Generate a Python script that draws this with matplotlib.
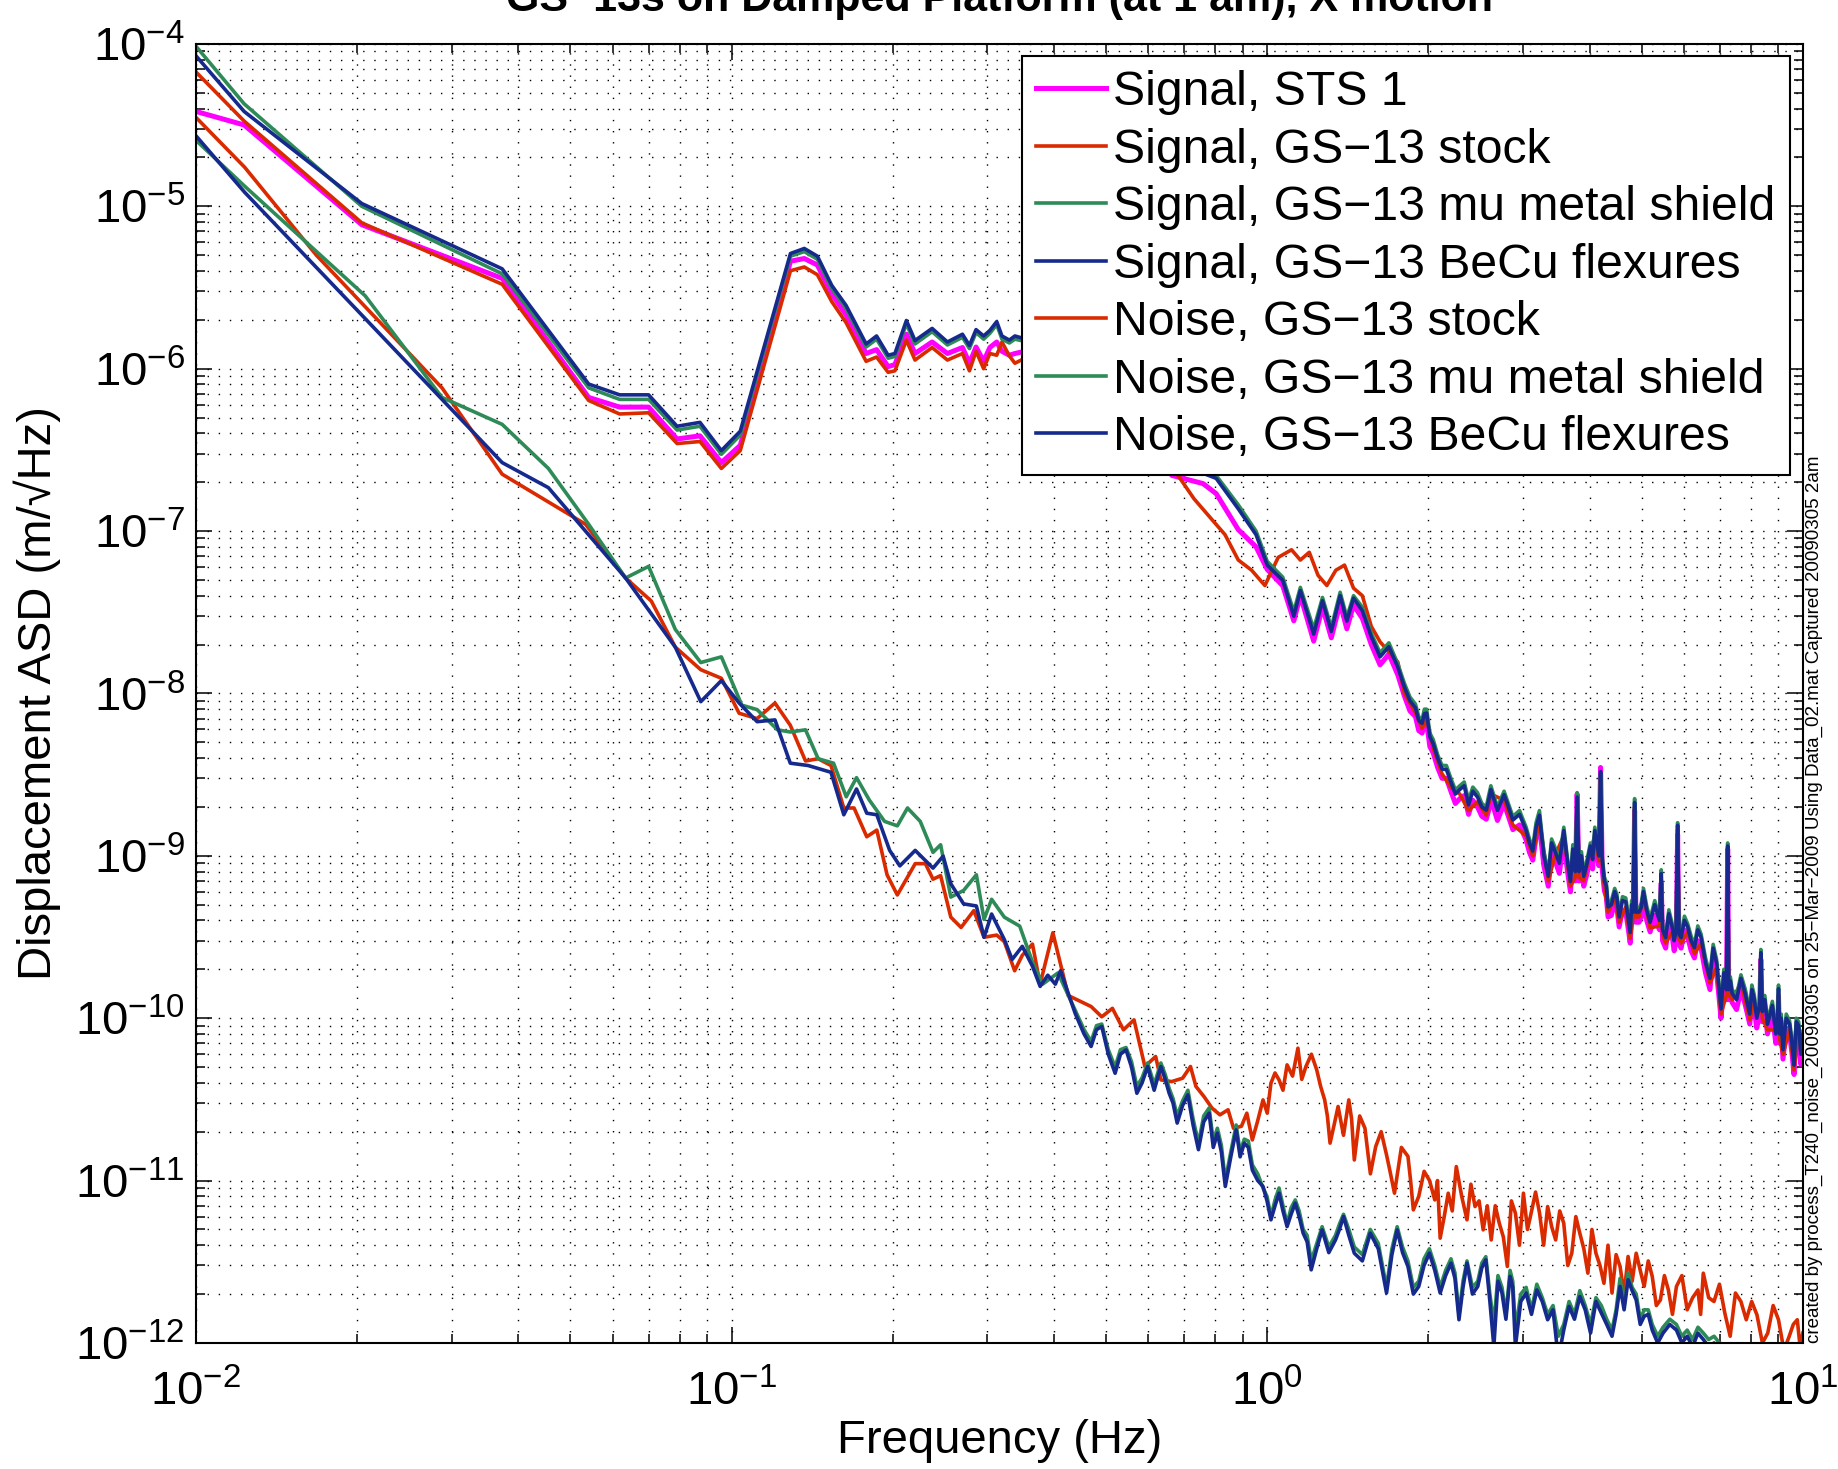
import numpy as np
import matplotlib
matplotlib.use('Agg')
import matplotlib.pyplot as plt
from matplotlib.ticker import LogLocator, NullFormatter

plt.rcParams['font.family'] = ['Liberation Sans', 'DejaVu Sans']
plt.rcParams['mathtext.fontset'] = 'custom'
plt.rcParams['mathtext.rm'] = 'Liberation Sans'
plt.rcParams['mathtext.it'] = 'Liberation Sans:italic'
plt.rcParams['mathtext.bf'] = 'Liberation Sans:bold'

# ---- signal spectra ----
sig_lo_freq = [0.0100, 0.0123, 0.0204, 0.0373, 0.0541, 0.0618, 0.0700, 0.0791, 0.0873, 0.0957,
               0.1038, 0.1288, 0.1367, 0.1446, 0.1538, 0.1636, 0.1783, 0.1865, 0.1960, 0.2018,
               0.2120, 0.2200, 0.2368, 0.2529, 0.2698, 0.2780, 0.2860, 0.2955, 0.3035, 0.3126,
               0.3197, 0.3300, 0.3380, 0.36, 0.40, 0.45, 0.50, 0.55, 0.60]
sts_lo = [3.84e-5, 3.17e-5, 7.7e-6, 3.6e-6, 6.65e-7, 5.8e-7, 5.8e-7, 3.69e-7, 3.86e-7, 2.64e-7,
          3.37e-7, 4.59e-6, 4.77e-6, 4.35e-6, 2.89e-6, 2.14e-6, 1.24e-6, 1.31e-6, 1.03e-6, 1.06e-6,
          1.63e-6, 1.24e-6, 1.46e-6, 1.24e-6, 1.35e-6, 1.08e-6, 1.36e-6, 1.11e-6, 1.35e-6, 1.46e-6,
          1.28e-6, 1.21e-6, 1.24e-6, 1.3e-6, 1.15e-6, 1.05e-6, 8e-7, 5.3e-7, 3.3e-7]
stock_lo = [6.72e-5, 3.35e-5, 7.91e-6, 3.31e-6, 6.37e-7, 5.26e-7, 5.35e-7, 3.46e-7, 3.56e-7, 2.43e-7,
            3.13e-7, 4.01e-6, 4.23e-6, 3.79e-6, 2.59e-6, 1.92e-6, 1.11e-6, 1.18e-6, 9.5e-7, 9.7e-7,
            1.50e-6, 1.13e-6, 1.35e-6, 1.13e-6, 1.24e-6, 9.7e-7, 1.28e-6, 1.0e-6, 1.24e-6, 1.21e-6,
            1.46e-6, 1.20e-6, 1.08e-6, 1.2e-6, 1.05e-6, 9.5e-7, 7.2e-7, 4.8e-7, 3.0e-7]
mu_lo = [9.68e-5, 4.28e-5, 1.0e-5, 3.84e-6, 7.62e-7, 6.47e-7, 6.47e-7, 4.19e-7, 4.42e-7, 2.97e-7,
         3.9e-7, 4.93e-6, 5.26e-6, 4.72e-6, 3.12e-6, 2.35e-6, 1.36e-6, 1.52e-6, 1.16e-6, 1.19e-6,
         1.89e-6, 1.42e-6, 1.69e-6, 1.40e-6, 1.56e-6, 1.33e-6, 1.67e-6, 1.52e-6, 1.65e-6, 1.87e-6,
         1.52e-6, 1.44e-6, 1.52e-6, 1.45e-6, 1.25e-6, 1.15e-6, 8.6e-7, 5.8e-7, 3.7e-7]
becu_lo = [8.45e-5, 3.84e-5, 1.04e-5, 4.12e-6, 8.04e-7, 6.9e-7, 6.9e-7, 4.42e-7, 4.67e-7, 3.13e-7,
           4.12e-7, 5.12e-6, 5.5e-6, 4.93e-6, 3.26e-6, 2.45e-6, 1.42e-6, 1.59e-6, 1.21e-6, 1.24e-6,
           1.98e-6, 1.49e-6, 1.77e-6, 1.46e-6, 1.63e-6, 1.39e-6, 1.74e-6, 1.59e-6, 1.72e-6, 1.95e-6,
           1.59e-6, 1.50e-6, 1.59e-6, 1.5e-6, 1.3e-6, 1.2e-6, 9e-7, 6e-7, 3.8e-7]

sig_mid_freq = [0.664, 0.759, 0.803, 0.883, 0.953, 1.0, 1.069, 1.121, 1.153, 1.221,
                1.268, 1.317, 1.368, 1.408, 1.449, 1.505, 1.564, 1.624, 1.687, 1.753]
sts_mid = [2.2e-7, 1.96e-7, 1.7e-7, 1.02e-7, 8.0e-8, 5.8e-8, 4.6e-8, 2.8e-8, 4.0e-8, 2.1e-8,
           3.4e-8, 2.2e-8, 3.6e-8, 2.5e-8, 3.5e-8, 2.9e-8, 2.0e-8, 1.5e-8, 1.75e-8, 1.3e-8]
mu_mid = [2.5e-7, 2.35e-7, 2.2e-7, 1.45e-7, 1.0e-7, 6.5e-8, 5.2e-8, 3.2e-8, 4.5e-8, 2.5e-8,
          3.9e-8, 2.55e-8, 4.2e-8, 2.95e-8, 4.0e-8, 3.4e-8, 2.35e-8, 1.78e-8, 2.05e-8, 1.52e-8]
becu_mid = [2.44e-7, 2.27e-7, 2.11e-7, 1.37e-7, 9.5e-8, 6.17e-8, 4.97e-8, 2.99e-8, 4.3e-8, 2.32e-8,
            3.72e-8, 2.41e-8, 4.0e-8, 2.79e-8, 3.86e-8, 3.22e-8, 2.24e-8, 1.68e-8, 1.94e-8, 1.45e-8]
stock_mid_freq = [0.677, 0.730, 0.773, 0.834, 0.883, 0.935, 0.990, 1.048, 1.110, 1.153,
                  1.198, 1.244, 1.292, 1.343, 1.394, 1.449, 1.505, 1.564, 1.624, 1.753]
stock_mid = [2.27e-7, 1.58e-7, 1.27e-7, 9.5e-8, 6.63e-8, 5.74e-8, 4.62e-8, 6.88e-8, 7.67e-8, 6.63e-8,
             7.4e-8, 5.34e-8, 4.62e-8, 5.74e-8, 6.17e-8, 4.45e-8, 4.0e-8, 2.59e-8, 2.08e-8, 1.56e-8]

sig_hf_freq = [1.804, 1.891, 1.946, 1.984, 2.041, 2.120, 2.202, 2.288, 2.376, 2.469,
               2.564, 2.615, 2.768, 2.874, 3.043, 3.131, 3.222, 3.347, 3.444, 3.578,
               3.682, 3.76, 3.789, 3.82, 3.898, 4.011, 4.088, 4.16, 4.191, 4.22,
               4.26, 4.328, 4.453, 4.539, 4.670, 4.760, 4.82, 4.851, 4.88, 4.945,
               5.040, 5.186, 5.40, 5.439, 5.47, 5.544, 5.704, 5.80, 5.836, 5.87,
               5.925, 6.097, 6.274, 6.455, 6.706, 6.900, 7.033, 7.20, 7.237, 7.27,
               7.377, 7.662, 7.958, 8.111, 8.30, 8.346, 8.40, 8.588, 8.96, 9.005,
               9.05, 9.180, 9.445, 9.627, 9.82, 10.0]
sts_hf = [9.6e-9, 7.2e-9, 5.7e-9, 6.6e-9, 4.3e-9, 3.0e-9, 2.5e-9, 2.25e-9, 1.8e-9, 2.0e-9,
          1.68e-9, 2.25e-9, 2.1e-9, 1.45e-9, 1.25e-9, 9.4e-10, 1.55e-9, 6.5e-10, 9.4e-10, 1.25e-9,
          6.0e-10, 7.0e-10, 2.4e-9, 7.0e-10, 6.5e-10, 1.0e-9, 1.25e-9, 8.7e-10, 3.5e-9, 8.3e-10,
          6.1e-10, 4.2e-10, 5.2e-10, 3.65e-10, 4.5e-10, 2.9e-10, 3.9e-10, 1.9e-9, 3.9e-10, 3.9e-10,
          5.2e-10, 3.4e-10, 3.5e-10, 6.8e-10, 3.0e-10, 2.7e-10, 3.15e-10, 3.0e-10, 1.35e-9, 2.9e-10,
          2.7e-10, 3.15e-10, 2.35e-10, 2.7e-10, 1.5e-10, 1.9e-10, 1.0e-10, 1.3e-10, 1.1e-9, 1.3e-10,
          1.25e-10, 1.5e-10, 9.2e-11, 1.15e-10, 1.05e-10, 2.3e-10, 9.5e-11, 8.0e-11, 7.8e-11, 1.35e-10,
          7.0e-11, 5.6e-11, 8.0e-11, 4.5e-11, 7.8e-11, 7.0e-11]
stock_hf = [1.0e-8, 7.6e-9, 6.1e-9, 7.0e-9, 4.6e-9, 3.2e-9, 2.65e-9, 2.4e-9, 1.9e-9, 2.15e-9,
            1.78e-9, 2.4e-9, 2.2e-9, 1.55e-9, 1.33e-9, 1.0e-9, 1.65e-9, 7.0e-10, 1.0e-9, 1.33e-9,
            6.5e-10, 7.4e-10, 2.15e-9, 7.4e-10, 7.0e-10, 1.07e-9, 1.33e-9, 9.3e-10, 3.0e-9, 8.8e-10,
            6.5e-10, 4.5e-10, 5.6e-10, 3.9e-10, 4.85e-10, 3.1e-10, 4.2e-10, 2.0e-9, 4.2e-10, 4.2e-10,
            5.6e-10, 3.6e-10, 3.7e-10, 7.2e-10, 3.25e-10, 2.9e-10, 3.4e-10, 3.25e-10, 1.45e-9, 3.1e-10,
            2.9e-10, 3.4e-10, 2.5e-10, 2.9e-10, 1.65e-10, 2.05e-10, 1.06e-10, 1.4e-10, 1.07e-9, 1.4e-10,
            1.3e-10, 1.65e-10, 9.8e-11, 1.23e-10, 1.1e-10, 2.35e-10, 1.0e-10, 8.5e-11, 8.4e-11, 1.4e-10,
            7.4e-11, 6.0e-11, 8.5e-11, 4.8e-11, 8.4e-11, 7.4e-11]
mu_hf = [1.15e-8, 8.6e-9, 6.9e-9, 8.0e-9, 5.2e-9, 3.6e-9, 3.0e-9, 2.7e-9, 2.2e-9, 2.45e-9,
         2.0e-9, 2.7e-9, 2.5e-9, 1.75e-9, 1.5e-9, 1.13e-9, 1.9e-9, 7.9e-10, 1.13e-9, 1.5e-9,
         7.3e-10, 8.4e-10, 2.45e-9, 8.4e-10, 7.9e-10, 1.2e-9, 1.5e-9, 1.05e-9, 3.2e-9, 1.0e-9,
         7.4e-10, 5.1e-10, 6.3e-10, 4.4e-10, 5.5e-10, 3.55e-10, 4.7e-10, 2.25e-9, 4.7e-10, 4.75e-10,
         6.3e-10, 4.1e-10, 4.2e-10, 8.2e-10, 3.7e-10, 3.3e-10, 3.8e-10, 3.7e-10, 1.6e-9, 3.5e-10,
         3.3e-10, 3.8e-10, 2.85e-10, 3.3e-10, 1.85e-10, 2.3e-10, 1.2e-10, 1.6e-10, 1.2e-9, 1.6e-10,
         1.5e-10, 1.85e-10, 1.11e-10, 1.4e-10, 1.26e-10, 2.65e-10, 1.15e-10, 9.6e-11, 9.5e-11, 1.6e-10,
         8.4e-11, 6.7e-11, 9.6e-11, 5.4e-11, 9.5e-11, 8.3e-11]
becu_hf = [1.09e-8, 8.15e-9, 6.55e-9, 7.57e-9, 4.91e-9, 3.42e-9, 2.85e-9, 2.56e-9, 2.06e-9, 2.30e-9,
           1.91e-9, 2.56e-9, 2.38e-9, 1.66e-9, 1.43e-9, 1.07e-9, 1.78e-9, 7.48e-10, 1.07e-9, 1.43e-9,
           6.95e-10, 8.0e-10, 2.30e-9, 8.0e-10, 7.48e-10, 1.15e-9, 1.43e-9, 1.0e-9, 3.30e-9, 9.5e-10,
           7.0e-10, 4.84e-10, 6.02e-10, 4.2e-10, 5.21e-10, 3.37e-10, 4.5e-10, 2.13e-9, 4.5e-10, 4.51e-10,
           6.02e-10, 3.9e-10, 4.0e-10, 7.76e-10, 3.5e-10, 3.14e-10, 3.63e-10, 3.5e-10, 1.54e-9, 3.3e-10,
           3.14e-10, 3.63e-10, 2.72e-10, 3.14e-10, 1.76e-10, 2.19e-10, 1.14e-10, 1.5e-10, 1.15e-9, 1.5e-10,
           1.42e-10, 1.76e-10, 1.06e-10, 1.32e-10, 1.2e-10, 2.53e-10, 1.1e-10, 9.18e-11, 9.0e-11, 1.52e-10,
           8.0e-11, 6.4e-11, 9.18e-11, 5.14e-11, 9.0e-11, 7.94e-11]

# extra in-between points of the dense high-frequency band
sig_fill_freq = [1.847, 1.918, 1.965, 2.012, 2.08, 2.16, 2.245, 2.332, 2.42, 2.516,
                 2.59, 2.69, 2.82, 2.958, 3.087, 3.176, 3.284, 3.395, 3.51, 3.63,
                 3.72, 3.86, 3.955, 4.05, 4.295, 4.39, 4.496, 4.605, 4.715, 4.79,
                 4.99, 5.11, 5.29, 5.36, 5.62, 5.75, 6.01, 6.185, 6.365, 6.58,
                 6.80, 6.965, 7.12, 7.32, 7.52, 7.81, 8.03, 8.2, 8.49, 8.77,
                 8.9, 9.11, 9.31, 9.54, 9.72, 9.91]
sts_fill = [7.8e-9, 5.9e-9, 6.5e-9, 4.7e-9, 3.5e-9, 3.0e-9, 2.1e-9, 2.35e-9, 2.2e-9, 1.75e-9,
            1.9e-9, 1.65e-9, 1.75e-9, 1.55e-9, 1.05e-9, 1.3e-9, 8.7e-10, 1.05e-9, 7.8e-10, 8.3e-10,
            9.5e-10, 8.7e-10, 7.8e-10, 8.3e-10, 5.6e-10, 4.3e-10, 4.8e-10, 4.6e-10, 3.65e-10, 4.3e-10,
            4.2e-10, 4.0e-10, 4.3e-10, 3.7e-10, 3.8e-10, 2.6e-10, 3.5e-10, 2.6e-10, 3.0e-10, 1.9e-10,
            2.35e-10, 1.4e-10, 1.65e-10, 1.5e-10, 1.13e-10, 1.2e-10, 1.3e-10, 8.7e-11, 1.13e-10, 1.05e-10,
            7.0e-11, 8.7e-11, 8.7e-11, 6.1e-11, 8.3e-11, 5.2e-11]
mu_fill = [9.5e-9, 7.2e-9, 8.0e-9, 5.7e-9, 4.2e-9, 3.6e-9, 2.55e-9, 2.85e-9, 2.65e-9, 2.1e-9,
           2.35e-9, 2.0e-9, 2.1e-9, 1.9e-9, 1.27e-9, 1.6e-9, 1.06e-9, 1.27e-9, 9.5e-10, 1.0e-9,
           1.17e-9, 1.06e-9, 9.5e-10, 1.0e-9, 6.9e-10, 5.3e-10, 5.8e-10, 5.6e-10, 4.45e-10, 5.3e-10,
           5.1e-10, 4.9e-10, 5.3e-10, 4.55e-10, 4.65e-10, 3.2e-10, 4.25e-10, 3.2e-10, 3.7e-10, 2.35e-10,
           2.85e-10, 1.7e-10, 2.0e-10, 1.8e-10, 1.38e-10, 1.5e-10, 1.6e-10, 1.06e-10, 1.38e-10, 1.27e-10,
           8.5e-11, 1.06e-10, 1.06e-10, 7.4e-11, 1.0e-10, 6.4e-11]
becu_fill = [9.0e-9, 6.8e-9, 7.5e-9, 5.4e-9, 4.0e-9, 3.4e-9, 2.4e-9, 2.7e-9, 2.5e-9, 2.0e-9,
             2.2e-9, 1.9e-9, 2.0e-9, 1.8e-9, 1.2e-9, 1.5e-9, 1.0e-9, 1.2e-9, 9.0e-10, 9.5e-10,
             1.1e-9, 1.0e-9, 9.0e-10, 9.5e-10, 6.5e-10, 5.0e-10, 5.5e-10, 5.3e-10, 4.2e-10, 5.0e-10,
             4.8e-10, 4.6e-10, 5.0e-10, 4.3e-10, 4.4e-10, 3.0e-10, 4.0e-10, 3.0e-10, 3.5e-10, 2.2e-10,
             2.7e-10, 1.6e-10, 1.9e-10, 1.7e-10, 1.3e-10, 1.4e-10, 1.5e-10, 1.0e-10, 1.3e-10, 1.2e-10,
             8.0e-11, 1.0e-10, 1.0e-10, 7.0e-11, 9.5e-11, 6.0e-11]

# ---- noise spectra ----
stock_noise_freq = [0.0100, 0.01233, 0.0168, 0.0288, 0.0373, 0.0534, 0.0634, 0.0708,
                    0.0785, 0.0876, 0.0957, 0.1033, 0.1116, 0.1205, 0.1287, 0.1374, 0.1451, 0.1533,
                    0.1620, 0.1693, 0.1788, 0.1867, 0.1951, 0.2039, 0.2202, 0.2300, 0.2377, 0.2456,
                    0.2566, 0.2682, 0.2833, 0.2960, 0.3126, 0.3230, 0.3376, 0.3489, 0.3645, 0.3767,
                    0.3979, 0.4250,
                    0.469, 0.491, 0.514, 0.539, 0.564, 0.591, 0.619, 0.633, 0.663, 0.695,
                    0.719, 0.736, 0.762, 0.789, 0.816, 0.845, 0.865, 0.895, 0.916, 0.938,
                    0.959, 0.982, 1.016, 1.052, 1.089, 1.141, 1.181, 1.237, 1.280, 1.310,
                    1.356, 1.420, 1.454, 1.522, 1.594, 1.670, 1.728, 1.831, 1.874, 1.963,
                    2.055, 2.103, 2.177, 2.254, 2.360, 2.443, 2.530, 2.619, 2.711, 2.807,
                    2.906, 3.008, 3.114, 3.224, 3.338, 3.455, 3.577, 3.703, 3.833, 3.968,
                    4.108, 4.252, 4.402, 4.557, 4.717, 4.884, 5.055, 5.233, 5.419, 5.609,
                    5.807, 6.081, 6.369, 6.517, 6.824, 7.148, 7.483, 7.839, 8.208, 8.598,
                    9.004, 9.430, 9.761, 10.0]
stock_noise = [3.53e-5, 1.74e-5, 4.98e-6, 7.62e-7, 2.24e-7, 1.10e-7, 5.14e-8, 3.71e-8,
               1.93e-8, 1.40e-8, 1.24e-8, 7.55e-9, 7.0e-9, 8.73e-9, 6.37e-9, 3.84e-9, 3.96e-9, 3.60e-9,
               1.97e-9, 1.97e-9, 1.31e-9, 1.44e-9, 7.64e-10, 5.74e-10, 8.95e-10, 8.95e-10, 7.18e-10, 7.55e-10,
               4.19e-10, 3.62e-10, 4.60e-10, 3.15e-10, 3.25e-10, 2.96e-10, 1.96e-10, 2.44e-10, 2.86e-10, 1.62e-10,
               3.36e-10, 1.38e-10,
               1.18e-10, 1.02e-10, 1.15e-10, 8.48e-11, 9.77e-11, 5.04e-11, 5.81e-11, 4.17e-11, 4.07e-11, 4.27e-11,
               5.04e-11, 3.80e-11, 3.29e-11, 2.79e-11, 2.54e-11, 2.73e-11, 2.10e-11, 2.16e-11, 2.60e-11, 1.78e-11,
               2.31e-11, 3.14e-11, 3.98e-11, 4.17e-11, 5.16e-11, 6.54e-11, 5.04e-11, 4.81e-11, 3.14e-11, 1.70e-11,
               2.86e-11, 3.14e-11, 1.34e-11, 2.10e-11, 1.62e-11, 1.44e-11, 8.36e-12, 1.41e-11, 6.6e-12, 1.14e-11,
               7.6e-12, 4.42e-12, 8.36e-12, 1.22e-11, 5.73e-12, 6.92e-12, 4.97e-12, 4.31e-12, 5.47e-12, 2.96e-12,
               6.3e-12, 8.36e-12, 6.45e-12, 6.3e-12, 6.92e-12, 4.31e-12, 5.47e-12, 3.57e-12, 4.74e-12, 2.69e-12,
               3.57e-12, 2.33e-12, 2.03e-12, 2.96e-12, 3.41e-12, 3.57e-12, 2.23e-12, 2.57e-12, 1.84e-12, 2.12e-12,
               2.23e-12, 1.60e-12, 2.12e-12, 2.69e-12, 1.80e-12, 1.53e-12, 2.03e-12, 1.39e-12, 1.49e-12, 1.15e-12,
               1.39e-12, 1.10e-12, 1.39e-12, 1.15e-12]
stock_noise_fill_freq = [1.000, 1.034, 1.070, 1.115, 1.160, 1.209, 1.258, 1.295, 1.333, 1.388,
                         1.437, 1.488, 1.558, 1.632, 1.699, 1.78, 1.852, 1.918, 2.009, 2.079,
                         2.14, 2.215, 2.307, 2.40, 2.486, 2.575, 2.665, 2.759, 2.856, 2.957,
                         3.061, 3.169, 3.281, 3.396, 3.516, 3.64, 3.768, 3.90, 4.038, 4.18,
                         4.327, 4.48, 4.637, 4.80, 4.97, 5.144, 5.326, 5.514, 5.708, 5.944,
                         6.225, 6.443, 6.67, 6.986, 7.315, 7.661, 8.024, 8.403, 8.80, 9.217,
                         9.595, 9.88]
stock_noise_fill = [2.6e-11, 4.6e-11, 3.6e-11, 4.4e-11, 4.2e-11, 6.0e-11, 3.8e-11, 2.5e-11, 2.2e-11, 1.9e-11,
                    2.4e-11, 2.5e-11, 1.1e-11, 2.0e-11, 1.1e-11, 1.6e-11, 1.0e-11, 8.0e-12, 1.0e-11, 1.0e-11,
                    6.0e-12, 6.5e-12, 8.0e-12, 9.5e-12, 7.5e-12, 7.0e-12, 7.0e-12, 4.5e-12, 7.5e-12, 4.0e-12,
                    5.0e-12, 8.5e-12, 4.0e-12, 5.2e-12, 6.5e-12, 3.0e-12, 6.0e-12, 3.8e-12, 5.0e-12, 3.0e-12,
                    4.0e-12, 3.5e-12, 2.0e-12, 2.4e-12, 2.8e-12, 3.2e-12, 1.7e-12, 2.6e-12, 1.5e-12, 2.6e-12,
                    1.9e-12, 1.5e-12, 1.9e-12, 2.3e-12, 1.1e-12, 1.8e-12, 1.8e-12, 1.0e-12, 1.7e-12, 9e-13,
                    1.3e-12, 9.5e-13]

mu_noise_lo_freq = [0.0100, 0.01233, 0.0207, 0.0288, 0.0373, 0.0455, 0.0541, 0.0634, 0.0700,
                    0.0785, 0.0876, 0.0957, 0.1045, 0.1116, 0.1218, 0.1287, 0.1374, 0.1451, 0.1550,
                    0.1637, 0.1711, 0.1807, 0.1930, 0.2039, 0.2130, 0.2250, 0.2377, 0.2456, 0.2566,
                    0.2711, 0.2864, 0.2960, 0.3058, 0.3230, 0.3451, 0.3645, 0.3808, 0.4067]
mu_noise_lo = [2.55e-5, 1.33e-5, 2.81e-6, 6.65e-7, 4.54e-7, 2.43e-7, 1.10e-7, 5.14e-8, 6.06e-8,
               2.48e-8, 1.55e-8, 1.68e-8, 8.47e-9, 7.95e-9, 5.97e-9, 5.79e-9, 5.97e-9, 3.96e-9, 3.72e-9,
               2.31e-9, 3.03e-9, 2.21e-9, 1.63e-9, 1.53e-9, 1.97e-9, 1.63e-9, 1.05e-9, 1.17e-9, 5.57e-10,
               6.12e-10, 7.64e-10, 4.06e-10, 5.40e-10, 4.19e-10, 3.69e-10, 2.22e-10, 1.62e-10, 1.90e-10]
becu_noise_lo_freq = [0.0100, 0.01233, 0.0204, 0.0373, 0.0455, 0.0634,
                      0.0785, 0.0876, 0.0957, 0.1033, 0.1116, 0.1205, 0.1287, 0.1389, 0.1533, 0.1620,
                      0.1711, 0.1788, 0.1867, 0.1973, 0.2061, 0.2202, 0.2377, 0.2483, 0.2566, 0.2711,
                      0.2864, 0.2960, 0.3058, 0.3230, 0.3340, 0.3489, 0.3645, 0.3767, 0.3893, 0.4022,
                      0.4112, 0.4250]
becu_noise_lo = [2.72e-5, 1.22e-5, 2.14e-6, 2.64e-7, 1.85e-7, 5.14e-8,
                 1.93e-8, 8.9e-9, 1.20e-8, 8.73e-9, 6.70e-9, 6.87e-9, 3.72e-9, 3.60e-9, 3.27e-9, 1.79e-9,
                 2.58e-9, 1.83e-9, 1.79e-9, 1.08e-9, 8.67e-10, 1.08e-9, 8.40e-10, 9.95e-10, 6.73e-10, 5.06e-10,
                 4.91e-10, 3.15e-10, 4.38e-10, 3.05e-10, 2.30e-10, 2.77e-10, 2.09e-10, 1.57e-10, 1.84e-10, 1.62e-10,
                 1.96e-10, 1.43e-10]

noise_hi_freq = [0.438, 0.469, 0.491, 0.520, 0.545, 0.571, 0.598, 0.633, 0.656, 0.679,
                 0.711, 0.744, 0.779, 0.807, 0.835, 0.875, 0.906, 0.938, 0.982, 1.016,
                 1.052, 1.089, 1.128, 1.167, 1.208, 1.266, 1.341, 1.388, 1.454, 1.557,
                 1.670, 1.748, 1.831, 1.918, 2.008, 2.103, 2.203, 2.280, 2.360, 2.472,
                 2.559, 2.649, 2.743, 2.840, 2.906, 3.043, 3.186, 3.338, 3.495, 3.660,
                 3.833, 4.014, 4.204, 4.402, 4.557, 4.717, 4.884, 5.055, 5.233, 5.482,
                 5.807, 6.081, 6.369, 6.669, 6.985, 7.5, 8.5, 10.0]
mu_noise_hi = [1.12e-10, 7.2e-11, 9.2e-11, 5.0e-11, 6.6e-11, 3.8e-11, 5.3e-11, 5.3e-11, 3.7e-11, 2.5e-11,
               3.6e-11, 1.7e-11, 2.8e-11, 2.1e-11, 1.0e-11, 2.2e-11, 1.8e-11, 1.25e-11, 9.0e-12, 6.0e-12,
               9.0e-12, 5.4e-12, 7.6e-12, 5.0e-12, 3.2e-12, 5.2e-12, 4.6e-12, 6.2e-12, 3.9e-12, 5.0e-12,
               2.2e-12, 5.2e-12, 3.2e-12, 2.4e-12, 3.8e-12, 2.2e-12, 3.3e-12, 1.5e-12, 3.2e-12, 2.4e-12,
               3.4e-12, 1.3e-12, 2.2e-12, 2.8e-12, 1.2e-12, 2.2e-12, 2.3e-12, 1.5e-12, 1.1e-12, 1.8e-12,
               2.1e-12, 1.3e-12, 1.7e-12, 1.2e-12, 2.5e-12, 2.7e-12, 2.0e-12, 1.6e-12, 1.3e-12, 1.25e-12,
               1.3e-12, 1.2e-12, 1.25e-12, 1.05e-12, 1.0e-12, 9e-13, 7e-13, 6e-13]
becu_noise_hi = [1.07e-10, 6.70e-11, 8.89e-11, 4.58e-11, 6.38e-11, 3.45e-11, 5.04e-11, 5.04e-11, 3.45e-11, 2.26e-11,
                 3.37e-11, 1.55e-11, 2.60e-11, 1.96e-11, 9.2e-12, 2.05e-11, 1.70e-11, 1.16e-11, 9.2e-12, 5.73e-12,
                 8.36e-12, 5.21e-12, 7.26e-12, 4.74e-12, 2.82e-12, 4.97e-12, 4.31e-12, 6.01e-12, 3.57e-12, 4.74e-12,
                 2.03e-12, 4.97e-12, 2.96e-12, 2.23e-12, 3.57e-12, 2.03e-12, 3.10e-12, 1.39e-12, 3.10e-12, 2.23e-12,
                 3.25e-12, 9.5e-13, 2.03e-12, 2.57e-12, 9.5e-13, 2.03e-12, 2.12e-12, 1.39e-12, 8.0e-13, 1.68e-12,
                 1.93e-12, 1.15e-12, 1.53e-12, 1.10e-12, 2.23e-12, 2.45e-12, 1.84e-12, 1.46e-12, 1.20e-12, 1.15e-12,
                 1.20e-12, 1.10e-12, 1.15e-12, 9.5e-13, 8.5e-13, 7e-13, 6e-13, 5e-13]
noise_fill_freq = [0.455, 0.48, 0.505, 0.532, 0.558, 0.584, 0.615, 0.645, 0.667, 0.695,
                   0.727, 0.761, 0.793, 0.821, 0.855, 0.89, 0.922, 0.96, 0.999, 1.034,
                   1.07, 1.108, 1.147, 1.187, 1.237, 1.303, 1.364, 1.42, 1.505, 1.612,
                   1.709, 1.789, 1.874, 1.962, 2.055, 2.153, 2.241, 2.32, 2.416, 2.515,
                   2.604, 2.696, 2.79, 2.873, 2.974, 3.114, 3.262, 3.416, 3.577, 3.746,
                   3.923, 4.108, 4.303, 4.48, 4.637, 4.80, 4.97, 5.144, 5.357, 5.644,
                   5.944, 6.225, 6.519, 6.827]
mu_noise_fill = [8.5e-11, 9.0e-11, 6.4e-11, 6.4e-11, 5.4e-11, 4.3e-11, 3.9e-11, 4.5e-11, 3.2e-11, 3.1e-11,
                 2.4e-11, 2.5e-11, 1.75e-11, 1.65e-11, 1.5e-11, 1.5e-11, 1.75e-11, 1.1e-11, 8.0e-12, 7.6e-12,
                 7.0e-12, 6.8e-12, 6.5e-12, 4.6e-12, 4.1e-12, 3.9e-12, 5.4e-12, 5.0e-12, 3.5e-12, 4.1e-12,
                 3.8e-12, 3.9e-12, 2.2e-12, 3.3e-12, 3.0e-12, 2.8e-12, 2.7e-12, 2.4e-12, 2.2e-12, 3.1e-12,
                 2.0e-12, 2.6e-12, 1.5e-12, 2.4e-12, 2.0e-12, 1.6e-12, 1.9e-12, 1.7e-12, 1.3e-12, 1.5e-12,
                 1.7e-12, 1.9e-12, 1.4e-12, 1.6e-12, 1.7e-12, 2.2e-12, 1.4e-12, 1.6e-12, 1.1e-12, 1.4e-12,
                 1.1e-12, 1.05e-12, 1.15e-12, 1.1e-12]
becu_noise_fill = [8.0e-11, 8.5e-11, 6.0e-11, 6.0e-11, 5.0e-11, 4.0e-11, 3.6e-11, 4.2e-11, 3.0e-11, 2.9e-11,
                   2.2e-11, 2.3e-11, 1.6e-11, 1.5e-11, 1.4e-11, 1.4e-11, 1.6e-11, 1.0e-11, 7.5e-12, 7.0e-12,
                   6.5e-12, 6.2e-12, 6.0e-12, 4.2e-12, 3.8e-12, 3.6e-12, 5.0e-12, 4.6e-12, 3.2e-12, 3.8e-12,
                   3.5e-12, 3.6e-12, 2.0e-12, 3.0e-12, 2.8e-12, 2.6e-12, 2.5e-12, 2.2e-12, 2.0e-12, 2.9e-12,
                   1.8e-12, 2.4e-12, 1.4e-12, 2.2e-12, 1.8e-12, 1.5e-12, 1.8e-12, 1.6e-12, 1.2e-12, 1.4e-12,
                   1.6e-12, 1.8e-12, 1.3e-12, 1.5e-12, 1.6e-12, 2.1e-12, 1.3e-12, 1.5e-12, 1.0e-12, 1.3e-12,
                   1.0e-12, 9.5e-13, 1.05e-12, 1.0e-12]

labels = ['Signal, STS 1', 'Signal, GS\u221213 stock', 'Signal, GS\u221213 mu metal shield',
          'Signal, GS\u221213 BeCu flexures', 'Noise, GS\u221213 stock',
          'Noise, GS\u221213 mu metal shield', 'Noise, GS\u221213 BeCu flexures']

c_mag = '#FF00FF'
c_red = '#DA2A00'
c_grn = '#2E8B57'
c_blu = '#152A8C'


def merge(freqs, vals):
    """join several frequency/value pieces and sort them by frequency"""
    f = np.concatenate([np.asarray(x, float) for x in freqs])
    a = np.concatenate([np.asarray(x, float) for x in vals])
    order = np.argsort(f, kind='stable')
    return f[order], a[order]


series = [
    (merge([sig_lo_freq, sig_mid_freq, sig_hf_freq, sig_fill_freq],
           [sts_lo, sts_mid, sts_hf, sts_fill]), c_mag, 3.6),
    (merge([sig_lo_freq, stock_mid_freq, sig_hf_freq],
           [stock_lo, stock_mid, stock_hf]), c_red, 2.6),
    (merge([sig_lo_freq, sig_mid_freq, sig_hf_freq, sig_fill_freq],
           [mu_lo, mu_mid, mu_hf, mu_fill]), c_grn, 2.6),
    (merge([sig_lo_freq, sig_mid_freq, sig_hf_freq, sig_fill_freq],
           [becu_lo, becu_mid, becu_hf, becu_fill]), c_blu, 2.6),
    (merge([stock_noise_freq, stock_noise_fill_freq],
           [stock_noise, stock_noise_fill]), c_red, 2.6),
    (merge([mu_noise_lo_freq, noise_hi_freq, noise_fill_freq],
           [mu_noise_lo, mu_noise_hi, mu_noise_fill]), c_grn, 2.6),
    (merge([becu_noise_lo_freq, noise_hi_freq, noise_fill_freq],
           [becu_noise_lo, becu_noise_hi, becu_noise_fill]), c_blu, 2.6),
]

fig = plt.figure(figsize=(18.38, 14.69), dpi=100)
ax = fig.add_axes([0.1066, 0.0858, 0.8743, 0.8843])

for ((f, a), c, lw), lab in zip(series, labels):
    ax.loglog(f, a, color=c, lw=lw, label=lab)

ax.set_xlim(1e-2, 1e1)
ax.set_ylim(1e-12, 1e-4)
for axis in (ax.xaxis, ax.yaxis):
    axis.set_major_locator(LogLocator(base=10, numticks=20))
    axis.set_minor_locator(LogLocator(base=10, subs=np.arange(2, 10), numticks=40))
    axis.set_minor_formatter(NullFormatter())

ax.grid(True, which='both', color='k', linestyle=(0, (1, 7)), linewidth=1.0)
ax.tick_params(which='both', direction='in', top=True, right=True, width=1.1, labelsize=34)
ax.tick_params(which='major', length=11.5)
ax.tick_params(which='minor', length=6.5)
ax.tick_params(axis='x', which='major', pad=20)
ax.tick_params(axis='y', which='major', pad=8)
for sp in ax.spines.values():
    sp.set_linewidth(1.5)

ax.set_title('GS\u221213s on Damped Platform (at 1 am), X motion', fontsize=31,
             fontweight='bold', pad=24)
ax.set_xlabel('Frequency (Hz)', fontsize=34, labelpad=2)
ax.set_ylabel('Displacement ASD (m/\u221aHz)', fontsize=34, labelpad=10)

leg = ax.legend(loc='upper right', bbox_to_anchor=(0.992, 0.991), fontsize=34.7,
                fancybox=False, edgecolor='k', framealpha=1, borderpad=0.3,
                labelspacing=0.26, handlelength=1.45, handletextpad=0.15, borderaxespad=0)
leg.get_frame().set_linewidth(1.5)

fig.text(1806 / 1838, 126 / 1469,
         'created by process_T240_noise_20090305 on 25\u2212Mar\u22122009 Using Data_02.mat '
         'Captured 20090305 2am', rotation=90, fontsize=13.5, ha='left', va='bottom')

fig.savefig('out.png', dpi=100)
